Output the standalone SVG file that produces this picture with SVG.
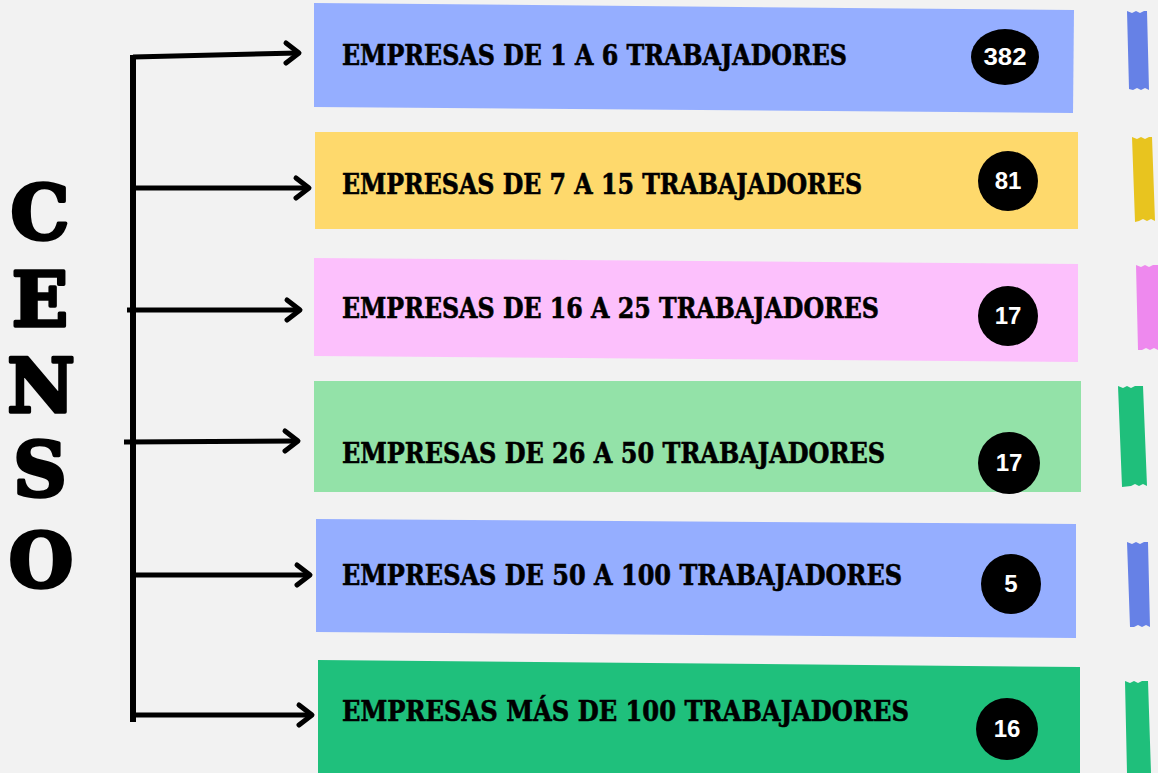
<svg xmlns="http://www.w3.org/2000/svg" width="1158" height="773" viewBox="0 0 1158 773">
<style>
.lbl{font-family:"DejaVu Serif","Liberation Serif",serif;font-weight:bold;font-size:27px;fill:#000;stroke:#000;stroke-width:0.6}
.num{font-family:"Liberation Sans","DejaVu Sans",sans-serif;font-weight:bold;font-size:24px;fill:#fff;text-anchor:middle}
.big{font-family:"DejaVu Serif","Liberation Serif",serif;font-weight:bold;font-size:74px;fill:#000;stroke:#000;stroke-width:3.5;stroke-linejoin:round;text-anchor:middle}
.ln{stroke:#000;stroke-width:5;fill:none;stroke-linecap:butt}
.hd{stroke:#000;stroke-width:5;fill:none;stroke-linecap:round;stroke-linejoin:round}
</style>
<rect width="1158" height="773" fill="#f2f2f2"/>
<g id="title">
<text class="big" x="40" y="239">C</text>
<text class="big" x="40" y="326">E</text>
<text class="big" x="41" y="412">N</text>
<text class="big" x="40" y="496">S</text>
<text class="big" x="41" y="587">O</text>
</g>
<g id="connectors">
<line class="ln" x1="133" y1="55" x2="133" y2="722" style="stroke-width:6"/>
<path class="ln" d="M133,57 L298,53"/><path class="hd" d="M286,43 L299,53 L286,63"/>
<path class="ln" d="M133,188 L308,188"/><path class="hd" d="M296,178 L309,188 L296,198"/>
<path class="ln" d="M127,310 L299,310"/><path class="hd" d="M287,300 L300,310 L287,320"/>
<path class="ln" d="M124,442 L297,441"/><path class="hd" d="M285,431 L298,441 L285,451"/>
<path class="ln" d="M133,575 L309,575"/><path class="hd" d="M297,565 L310,575 L297,585"/>
<path class="ln" d="M133,715 L311,715"/><path class="hd" d="M299,705 L312,715 L299,725"/>
</g>
<g id="node1">
<polygon points="314,3 1074,10 1073,113 314,107" fill="#95aeff"/>
<text class="lbl" x="342" y="65" textLength="505" lengthAdjust="spacingAndGlyphs">EMPRESAS DE 1 A 6 TRABAJADORES</text>
<ellipse cx="1005" cy="57" rx="34" ry="28" fill="#000"/>
<text class="num" x="1005" y="65" textLength="43" lengthAdjust="spacingAndGlyphs">382</text>
<polygon points="1127,11 1132,13 1136,11 1140,13 1144,11 1147,11 1149,90 1145,88 1141,90 1137,88 1133,90 1129,89" fill="#6681e6"/>
</g>
<g id="node2">
<polygon points="315,132 1078,132 1078,229 315,229" fill="#fed96c"/>
<text class="lbl" x="342" y="194" textLength="520" lengthAdjust="spacingAndGlyphs">EMPRESAS DE 7 A 15 TRABAJADORES</text>
<circle cx="1008" cy="181" r="30" fill="#000"/>
<text class="num" x="1008" y="189">81</text>
<polygon points="1132,137 1137,139 1141,137 1145,139 1149,137 1152,137 1155,221 1151,219 1147,221 1143,219 1139,221 1135,222" fill="#e8c41f"/>
</g>
<g id="node3">
<polygon points="314,258 1078,264 1078,362 314,356" fill="#fcc0fc"/>
<text class="lbl" x="342" y="318" textLength="537" lengthAdjust="spacingAndGlyphs">EMPRESAS DE 16 A 25 TRABAJADORES</text>
<circle cx="1008" cy="316" r="30" fill="#000"/>
<text class="num" x="1008" y="324">17</text>
<polygon points="1136,265 1141,267 1145,265 1149,267 1153,265 1158,265 1158,350 1154,348 1150,350 1146,348 1142,350 1138,350" fill="#ee89ee"/>
</g>
<g id="node4">
<polygon points="314,381 1081,381 1081,492 314,492" fill="#93e2a8"/>
<text class="lbl" x="342" y="463" textLength="543" lengthAdjust="spacingAndGlyphs">EMPRESAS DE 26 A 50 TRABAJADORES</text>
<circle cx="1009" cy="463" r="31" fill="#000"/>
<text class="num" x="1009" y="471">17</text>
<polygon points="1118,386 1123,388 1127,386 1131,388 1135,386 1143,386 1147,486 1143,484 1139,486 1135,484 1131,486 1122,487" fill="#1fbf7b"/>
</g>
<g id="node5">
<polygon points="316,519 1076,524 1076,638 316,632" fill="#95aeff"/>
<text class="lbl" x="342" y="585" textLength="560" lengthAdjust="spacingAndGlyphs">EMPRESAS DE 50 A 100 TRABAJADORES</text>
<circle cx="1011" cy="584" r="30" fill="#000"/>
<text class="num" x="1011" y="592">5</text>
<polygon points="1127,542 1132,544 1136,542 1140,544 1144,542 1148,542 1150,627 1146,625 1142,627 1138,625 1134,627 1130,627" fill="#6681e6"/>
</g>
<g id="node6">
<polygon points="318,660 1080,667 1080,773 318,773" fill="#1fc07c"/>
<text class="lbl" x="342" y="721" textLength="567" lengthAdjust="spacingAndGlyphs">EMPRESAS MÁS DE 100 TRABAJADORES</text>
<circle cx="1007" cy="729" r="31" fill="#000"/>
<text class="num" x="1007" y="737">16</text>
<polygon points="1125,681 1130,683 1134,681 1138,683 1142,681 1148,681 1151,773 1127,773" fill="#1fbf7b"/>
</g>
</svg>
